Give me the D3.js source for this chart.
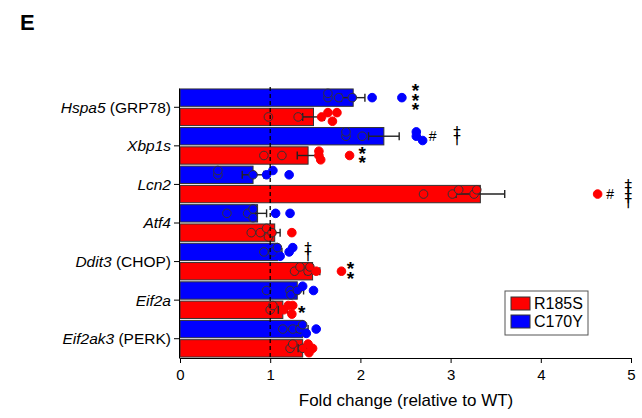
<!DOCTYPE html>
<html>
<head>
<meta charset="utf-8">
<script src="https://cdn.jsdelivr.net/npm/d3@7"></script>
<style>
  body { margin: 0; background: #fff; }
  svg { font-family: "Liberation Sans", Arial, sans-serif; }
</style>
</head>
<body>
<div id="chart"></div>
<script>
// genes, top to bottom
var genes = ['Hspa5', 'Xbp1s', 'Lcn2', 'Atf4', 'Ddit3', 'Eif2a', 'Eif2ak3']
var geneNotes = [' (GRP78)', '', '', '', ' (CHOP)', '', ' (PERK)']
var series = ['C170Y', 'R185S']
var legendOrder = ['R185S', 'C170Y']
var xTicks = [0, 1, 2, 3, 4, 5]

// bar means and SEM
var meanC170Y = [1.92, 2.26, 0.81, 0.86, 1.08, 1.30, 1.36]
var semC170Y = [0.13, 0.17, 0.12, 0.10, 0.05, 0.07, 0.06]
var meanR185S = [1.48, 1.42, 3.33, 1.05, 1.47, 1.14, 1.36]
var semR185S = [0.12, 0.12, 0.27, 0.06, 0.08, 0.05, 0.05]

// individual animals
var ptsC170Y = [
	[1.64, 1.64, 1.76, 1.91, 2.13, 2.46],
	[1.84, 1.84, 2.02, 2.62, 2.62, 2.69],
	[0.42, 0.42, 0.81, 0.96, 1.03, 1.21],
	[0.52, 0.75, 0.81, 0.81, 1.06, 1.22],
	[0.93, 1.03, 1.08, 1.11, 1.21, 1.25],
	[0.96, 1.22, 1.23, 1.30, 1.36, 1.48],
	[1.14, 1.25, 1.33, 1.36, 1.40, 1.51]
]
var ptsR185S = [
	[0.98, 1.31, 1.57, 1.64, 1.69, 1.74],
	[0.93, 1.13, 1.54, 1.54, 1.56, 1.88],
	[2.70, 3.02, 3.09, 3.26, 3.29, 4.63],
	[0.79, 0.89, 0.96, 0.98, 1.02, 1.24],
	[1.27, 1.33, 1.42, 1.44, 1.51, 1.79],
	[1.00, 1.03, 1.15, 1.20, 1.24, 1.25],
	[1.22, 1.25, 1.36, 1.42, 1.43, 1.47]
]

// significance marks: gene, series, x position (data units), symbol, count
var sigMarks = [
	['Hspa5', 'C170Y', 2.61, '*', 3],
	['Xbp1s', 'C170Y', 2.80, '#', 1],
	['Xbp1s', 'C170Y', 3.07, '†', 2],
	['Xbp1s', 'R185S', 2.02, '*', 2],
	['Lcn2', 'R185S', 4.77, '#', 1],
	['Lcn2', 'R185S', 4.97, '†', 4],
	['Ddit3', 'C170Y', 1.42, '†', 2],
	['Ddit3', 'R185S', 1.89, '*', 2],
	['Eif2a', 'R185S', 1.35, '*', 1]
]

var colors = { 'R185S': '#ff0000', 'C170Y': '#0000ff' }
var means = { 'C170Y': meanC170Y, 'R185S': meanR185S }
var sems = { 'C170Y': semC170Y, 'R185S': semR185S }
var pts = { 'C170Y': ptsC170Y, 'R185S': ptsR185S }

var width = 642
var height = 418

var svg = d3.select('#chart').append('svg')
	.attr('width', width)
	.attr('height', height)

svg.append('text')
	.attr('x', 20)
	.attr('y', 30)
	.style('font-size', '22px')
	.style('font-weight', 'bold')
	.text('E')

var xScale = d3.scaleLinear()
	.domain([0, 5])
	.range([180, 631])

var yScale = d3.scaleBand()
	.domain(genes)
	.range([88, 358])

var ySub = d3.scaleBand()
	.domain(series)
	.range([0, yScale.bandwidth()])
	.paddingInner(0.1)
	.paddingOuter(0.05)

var groups = svg.selectAll('g.gene')
	.data(genes)
	.enter().append('g')
	.attr('class', 'gene')
	.attr('transform', function(d) { return 'translate(0,' + yScale(d) + ')' })

series.forEach(function(s) {
	var y0 = ySub(s)
	var bh = ySub.bandwidth()

	groups.append('rect')
		.attr('x', xScale(0))
		.attr('y', y0)
		.attr('width', function(d, i) { return xScale(means[s][i]) - xScale(0) })
		.attr('height', bh)
		.attr('fill', colors[s])
		.attr('stroke', '#333')
		.attr('stroke-width', 1)
})

// dashed reference line at 1, over the bars
svg.append('line')
	.attr('x1', xScale(1)).attr('x2', xScale(1))
	.attr('y1', 87).attr('y2', 358)
	.attr('stroke', '#000')
	.attr('stroke-width', 1.3)
	.attr('stroke-dasharray', '4,3')

// simple dodge: put a point in the middle row, else top, else bottom
function dodge(values, cy) {
	var placed = []
	return values.map(function(v) {
		var x = xScale(v)
		var rows = [0, -4.3, 4.3]
		var best = rows[0], bestGap = -1
		for (var r = 0; r < rows.length; r++) {
			var gap = d3.min(placed, function(p) { return Math.hypot(p.x - x, p.y - (cy + rows[r])) })
			if (gap === undefined) gap = 99
			if (gap >= 7) { best = rows[r]; bestGap = gap; break }
			if (gap > bestGap) { bestGap = gap; best = rows[r] }
		}
		var n = { v: v, x: x, y: cy + best }
		placed.push(n)
		return n
	})
}

series.forEach(function(s) {
	var y0 = ySub(s)
	var bh = ySub.bandwidth()
	var cy = y0 + bh / 2

	groups.each(function(gene, i) {
		var g = d3.select(this)
		var m = means[s][i]
		var e = sems[s][i]

		var nodes = dodge(pts[s][i], cy)

		// error bar
		var ex = g.append('g')
			.attr('stroke', '#222')
			.attr('stroke-width', 1.4)
		ex.append('line')
			.attr('x1', xScale(m - e)).attr('x2', xScale(m + e))
			.attr('y1', cy).attr('y2', cy)
		ex.selectAll('line.cap')
			.data([m - e, m + e])
			.enter().append('line')
			.attr('class', 'cap')
			.attr('x1', function(d) { return xScale(d) }).attr('x2', function(d) { return xScale(d) })
			.attr('y1', cy - 4).attr('y2', cy + 4)

		g.selectAll('circle.' + s)
			.data(nodes)
			.enter().append('circle')
			.attr('class', s)
			.attr('cx', function(d) { return d.x })
			.attr('cy', function(d) { return d.y })
			.attr('r', 4.3)
			.attr('fill', colors[s])
			.attr('stroke', function(d) { return d.v <= m ? '#333' : colors[s] })
			.attr('stroke-width', 1)
	})
})

// significance symbols, stacked vertically on the bar they belong to
sigMarks.forEach(function(sm) {
	var gy = yScale(sm[0]) + ySub(sm[1]) + ySub.bandwidth() / 2
	var n = sm[4]
	var sym = sm[3]
	var step = sym == '†' ? 5.5 : 9.5
	var size = sym == '*' ? '19px' : (sym == '#' ? '14px' : '15px')
	var shift = sym == '*' ? 9 : 5
	for (var k = 0; k < n; k++) {
		svg.append('text')
			.attr('x', xScale(sm[2]))
			.attr('y', gy + (k - (n - 1) / 2) * step + shift)
			.attr('text-anchor', 'middle')
			.attr('fill', '#000')
			.style('font-family', sym == '†' ? '"DejaVu Sans", sans-serif' : null)
			.style('font-weight', sym == '*' ? 'bold' : 'normal')
			.style('font-size', size)
			.text(sym)
	}
})

// axes
var xAxis = svg.append('g')
	.attr('transform', 'translate(0,358)')
	.call(d3.axisBottom(xScale).tickValues(xTicks).tickFormat(d3.format('d')).tickSize(5).tickSizeOuter(0))
xAxis.selectAll('text').style('font-size', '15px').attr('dy', '0.9em').attr('fill', '#000')
xAxis.selectAll('line, path').attr('stroke', '#000')

var yAxis = svg.append('g')
	.attr('transform', 'translate(179,0)')
	.call(d3.axisLeft(yScale).tickSize(5).tickSizeOuter(0))
yAxis.selectAll('line, path').attr('stroke', '#000')
yAxis.selectAll('text').remove()
yAxis.selectAll('.tick').append('text')
	.attr('x', -8)
	.attr('dy', '0.35em')
	.attr('text-anchor', 'end')
	.attr('fill', '#000')
	.style('font-size', '15.5px')
	.each(function(d) {
		var t = d3.select(this)
		var i = genes.indexOf(d)
		t.append('tspan').style('font-style', 'italic').text(d)
		if (geneNotes[i]) t.append('tspan').text(geneNotes[i])
	})

svg.append('text')
	.attr('x', 406)
	.attr('y', 406)
	.attr('text-anchor', 'middle')
	.style('font-size', '17px')
	.text('Fold change (relative to WT)')

// legend
var legend = svg.append('g').attr('transform', 'translate(505,291)')
legend.append('rect')
	.attr('width', 83).attr('height', 44)
	.attr('fill', '#fff')
	.attr('stroke', '#555')
legend.selectAll('rect.sw')
	.data(legendOrder)
	.enter().append('rect')
	.attr('class', 'sw')
	.attr('x', 6)
	.attr('y', function(d, i) { return 6 + i * 18 })
	.attr('width', 19).attr('height', 13)
	.attr('fill', function(d) { return colors[d] })
	.attr('stroke', '#333')
legend.selectAll('text')
	.data(legendOrder)
	.enter().append('text')
	.attr('x', 29)
	.attr('y', function(d, i) { return 18 + i * 18 })
	.style('font-size', '16px')
	.text(function(d) { return d })
</script>
</body>
</html>
